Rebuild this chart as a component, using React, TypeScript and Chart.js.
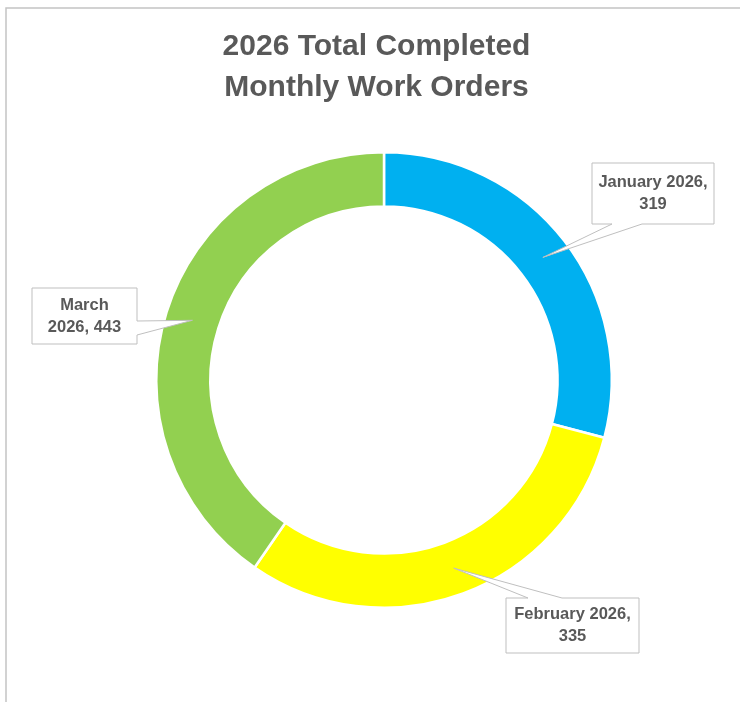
import React, { useEffect, useRef } from "react";
import { Chart, registerables } from "chart.js";

Chart.register(...registerables);

// ---- data ----
const categories = ["January 2026", "February 2026", "March 2026"];
const workOrders = [319, 335, 443];
const sliceColors = ["#00B0F0", "#FFFF00", "#92D050"];
const titleLines = ["2026 Total Completed", "Monthly Work Orders"];
// number of words on the first line of each callout label
const labelBreakAfterWords = [2, 2, 1];

// ---- callout layout (annotation boxes, not marks) ----
const calloutLayout = [
  { x: 592, y: 163, w: 122, h: 61, side: "bottom", b1: 612, b2: 642 },
  { x: 506, y: 598, w: 133, h: 55, side: "top", b1: 528, b2: 562 },
  { x: 32, y: 288, w: 105, h: 56, side: "right", b1: 321, b2: 335 },
];

const TEXT_COLOR = "#595959";
const FONT = "'Liberation Sans', Arial, sans-serif";

function labelLines(i: number): string[] {
  const words = `${categories[i]}, ${workOrders[i]}`.split(" ");
  const n = labelBreakAfterWords[i];
  return [words.slice(0, n).join(" "), words.slice(n).join(" ")];
}

const decorPlugin = {
  id: "decor",
  beforeDraw(chart: any) {
    const ctx = chart.ctx as CanvasRenderingContext2D;
    ctx.save();
    // outer frame
    ctx.strokeStyle = "#C4C4C4";
    ctx.lineWidth = 1.5;
    ctx.beginPath();
    ctx.moveTo(740, 8);
    ctx.lineTo(6, 8);
    ctx.lineTo(6, 702);
    ctx.stroke();
    // title
    ctx.fillStyle = TEXT_COLOR;
    ctx.font = `bold 30px ${FONT}`;
    ctx.textAlign = "center";
    ctx.textBaseline = "alphabetic";
    ctx.fillText(titleLines[0], 376.5, 55);
    ctx.fillText(titleLines[1], 376.5, 96);
    ctx.restore();
  },
  afterDraw(chart: any) {
    const ctx = chart.ctx as CanvasRenderingContext2D;
    const meta = chart.getDatasetMeta(0);
    ctx.save();
    meta.data.forEach((arc: any, i: number) => {
      const p = arc.getProps(["x", "y", "startAngle", "endAngle", "innerRadius", "outerRadius"], true);
      const mid = (p.startAngle + p.endAngle) / 2;
      const r = (p.innerRadius + p.outerRadius) / 2;
      const tx = p.x + Math.cos(mid) * r;
      const ty = p.y + Math.sin(mid) * r;
      const b = calloutLayout[i];
      const L = b.x, T = b.y, R = b.x + b.w, B = b.y + b.h;
      ctx.beginPath();
      ctx.moveTo(L, T);
      if (b.side === "top") {
        ctx.lineTo(b.b1, T);
        ctx.lineTo(tx, ty);
        ctx.lineTo(b.b2, T);
      }
      ctx.lineTo(R, T);
      if (b.side === "right") {
        ctx.lineTo(R, b.b1);
        ctx.lineTo(tx, ty);
        ctx.lineTo(R, b.b2);
      }
      ctx.lineTo(R, B);
      if (b.side === "bottom") {
        ctx.lineTo(b.b2, B);
        ctx.lineTo(tx, ty);
        ctx.lineTo(b.b1, B);
      }
      ctx.lineTo(L, B);
      if (b.side === "left") {
        ctx.lineTo(L, b.b2);
        ctx.lineTo(tx, ty);
        ctx.lineTo(L, b.b1);
      }
      ctx.closePath();
      ctx.fillStyle = "#FFFFFF";
      ctx.fill();
      ctx.strokeStyle = "#BFBFBF";
      ctx.lineWidth = 1;
      ctx.stroke();

      const lines = labelLines(i);
      ctx.fillStyle = TEXT_COLOR;
      ctx.font = `bold 16.5px ${FONT}`;
      ctx.textAlign = "center";
      ctx.textBaseline = "middle";
      const cx = b.x + b.w / 2;
      const cy = b.y + b.h / 2;
      const lh = 22;
      lines.forEach((ln, k) => {
        ctx.fillText(ln, cx, cy + (k - (lines.length - 1) / 2) * lh);
      });
    });
    ctx.restore();
  },
};

export default function App() {
  const ref = useRef<HTMLCanvasElement | null>(null);
  useEffect(() => {
    if (!ref.current) return;
    const chart = new Chart(ref.current, {
      type: "doughnut",
      data: {
        labels: categories,
        datasets: [
          {
            data: workOrders,
            backgroundColor: sliceColors,
            borderColor: "#FFFFFF",
            borderWidth: 2.5,
            hoverOffset: 0,
          },
        ],
      },
      options: {
        responsive: false,
        animation: false,
        cutout: "76.2%",
        layout: { padding: { left: 155, top: 151, right: 127, bottom: 93 } },
        plugins: {
          legend: { display: false },
          title: { display: false },
          tooltip: { enabled: false },
        },
        events: [],
      },
      plugins: [decorPlugin],
    });
    return () => chart.destroy();
  }, []);
  return (
    <div style={{ position: "fixed", left: 0, top: 0, width: 740, height: 702, background: "#FFFFFF" }}>
      <canvas ref={ref} width={740} height={702} />
    </div>
  );
}
